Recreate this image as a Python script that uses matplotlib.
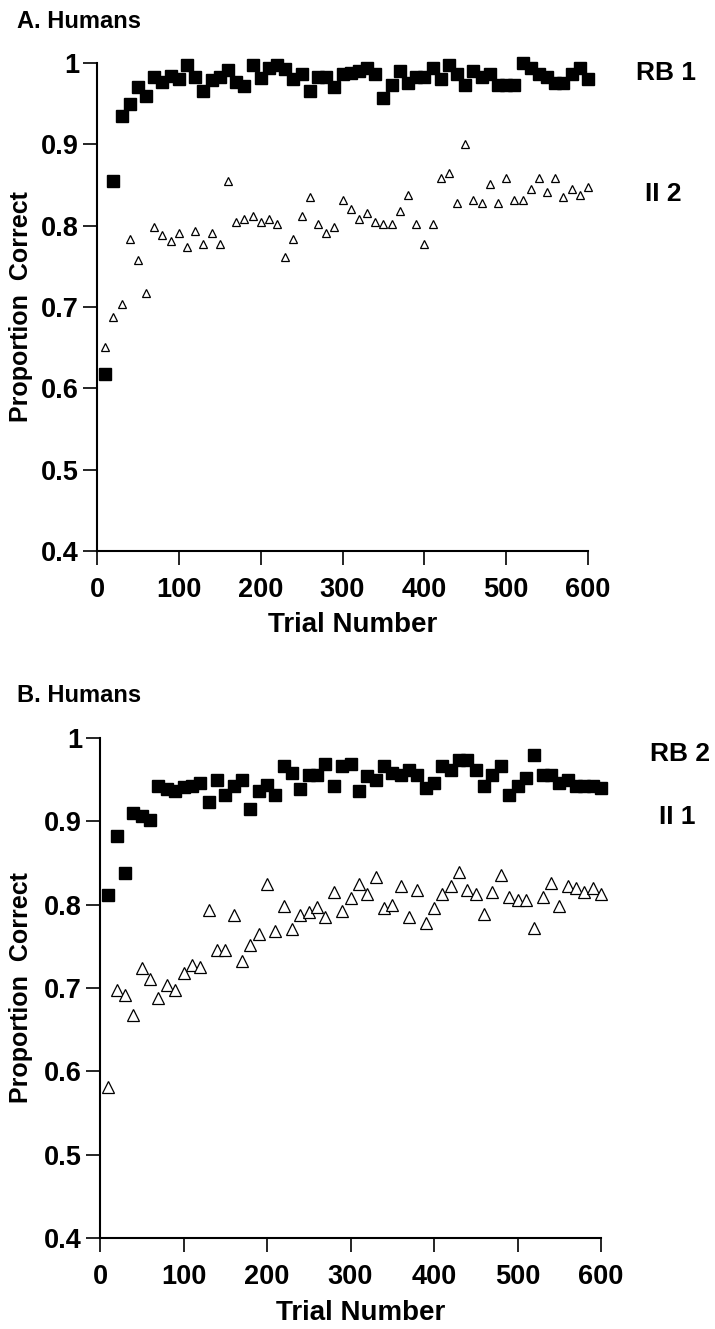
#!/usr/bin/env python3
import matplotlib
matplotlib.use("Agg")
import matplotlib.pyplot as plt

# Trial bins (every 10 trials)
trials = list(range(10, 610, 10))

# Panel A: RB 1 (filled squares) and II 2 (open triangles)
rb1 = [0.618, 0.855, 0.935, 0.949, 0.970, 0.959, 0.983, 0.977, 0.984, 0.980,
       0.997, 0.983, 0.966, 0.979, 0.983, 0.991, 0.977, 0.972, 0.997, 0.981,
       0.994, 0.997, 0.993, 0.980, 0.987, 0.966, 0.983, 0.983, 0.970, 0.987,
       0.988, 0.990, 0.994, 0.987, 0.957, 0.973, 0.990, 0.976, 0.983, 0.983,
       0.994, 0.980, 0.998, 0.987, 0.973, 0.990, 0.983, 0.987, 0.973, 0.973,
       0.973, 1.000, 0.994, 0.987, 0.983, 0.976, 0.976, 0.987, 0.994, 0.980]
ii2 = [0.651, 0.688, 0.704, 0.784, 0.758, 0.717, 0.798, 0.788, 0.781, 0.791,
       0.774, 0.794, 0.778, 0.791, 0.778, 0.855, 0.804, 0.808, 0.812, 0.804,
       0.808, 0.802, 0.761, 0.784, 0.812, 0.835, 0.802, 0.791, 0.798, 0.831,
       0.821, 0.808, 0.815, 0.805, 0.802, 0.802, 0.818, 0.838, 0.802, 0.778,
       0.802, 0.858, 0.865, 0.828, 0.901, 0.831, 0.828, 0.851, 0.828, 0.858,
       0.831, 0.831, 0.845, 0.858, 0.841, 0.858, 0.835, 0.845, 0.838, 0.848]

# Panel B: RB 2 (filled squares) and II 1 (open triangles)
rb2 = [0.812, 0.882, 0.838, 0.910, 0.906, 0.902, 0.942, 0.939, 0.936, 0.941,
       0.942, 0.946, 0.923, 0.949, 0.932, 0.942, 0.949, 0.915, 0.936, 0.943,
       0.932, 0.966, 0.958, 0.939, 0.956, 0.956, 0.969, 0.942, 0.966, 0.969,
       0.936, 0.954, 0.949, 0.966, 0.958, 0.956, 0.962, 0.956, 0.940, 0.946,
       0.966, 0.962, 0.973, 0.973, 0.962, 0.942, 0.956, 0.966, 0.932, 0.942,
       0.952, 0.980, 0.956, 0.956, 0.946, 0.950, 0.942, 0.942, 0.942, 0.940]
ii1 = [0.581, 0.698, 0.691, 0.668, 0.724, 0.711, 0.688, 0.704, 0.698, 0.718,
       0.728, 0.725, 0.794, 0.745, 0.745, 0.788, 0.732, 0.751, 0.765, 0.825,
       0.768, 0.798, 0.771, 0.788, 0.791, 0.797, 0.785, 0.815, 0.792, 0.808,
       0.825, 0.813, 0.833, 0.796, 0.800, 0.822, 0.785, 0.818, 0.778, 0.796,
       0.813, 0.822, 0.839, 0.818, 0.813, 0.789, 0.815, 0.836, 0.809, 0.806,
       0.806, 0.772, 0.809, 0.826, 0.798, 0.822, 0.820, 0.815, 0.820, 0.813]

y_ticks = [0.4, 0.5, 0.6, 0.7, 0.8, 0.9, 1.0]
y_tick_labels = ["0.4", "0.5", "0.6", "0.7", "0.8", "0.9", "1"]
x_ticks = [0, 100, 200, 300, 400, 500, 600]

plt.rcParams['font.family'] = ['Liberation Sans', 'DejaVu Sans']
plt.rcParams['font.weight'] = 'bold'


def style_axes(ax):
    for side in ('top', 'right'):
        ax.spines[side].set_visible(False)
    for side in ('left', 'bottom'):
        ax.spines[side].set_linewidth(1.5)
    ax.set_xlim(0, 600)
    ax.set_ylim(0.4, 1.0)
    ax.set_xticks(x_ticks)
    ax.set_yticks(y_ticks)
    ax.set_yticklabels(y_tick_labels)
    ax.tick_params(axis='both', direction='out', length=10, width=1.2,
                   labelsize=19.5)
    ax.tick_params(axis='x', pad=9)
    ax.tick_params(axis='y', pad=3)
    for lab in ax.get_xticklabels() + ax.get_yticklabels():
        lab.set_fontweight('bold')
    ax.set_xlabel("Trial Number", fontsize=20, fontweight='bold')
    ax.set_ylabel("Proportion  Correct", fontsize=18, fontweight='bold')


def panel(ax, sq, tri, tri_size, sq_label, tri_label, sq_pos, tri_pos, ha='center'):
    ax.plot(trials, sq, linestyle='none', marker='s', markersize=8,
            color='black', clip_on=False)
    ax.plot(trials, tri, linestyle='none', marker='^', markersize=tri_size,
            markerfacecolor='white', markeredgecolor='black',
            markeredgewidth=0.9, clip_on=False)
    style_axes(ax)
    ax.text(sq_pos[0], sq_pos[1], sq_label, fontsize=19, fontweight='bold',
            ha=ha, va='center', clip_on=False)
    ax.text(tri_pos[0], tri_pos[1], tri_label, fontsize=19, fontweight='bold',
            ha=ha, va='center', clip_on=False)
    return ax


def main():
    fig = plt.figure(figsize=(7.15, 13.29), dpi=100)

    ax_a = fig.add_axes([0.1357, 0.5854, 0.6867, 0.3672])
    panel(ax_a, rb1, ii2, 6, "RB 1", "II 2", (695, 0.988), (692, 0.839))
    ax_a.xaxis.set_label_coords(0.52, -0.125)
    ax_a.yaxis.set_label_coords(-0.13, 0.5)

    # right-aligned so "RB 2" stays inside the figure
    ax_b = fig.add_axes([0.1399, 0.0685, 0.7007, 0.3762])
    panel(ax_b, rb2, ii1, 9, "RB 2", "II 1", (731, 0.981), (713, 0.905),
          ha='right')
    ax_b.xaxis.set_label_coords(0.52, -0.125)
    ax_b.yaxis.set_label_coords(-0.134, 0.5)

    fig.text(17 / 715, 1 - 22 / 1329, "A. Humans", fontsize=17,
             fontweight='bold', ha='left', va='center')
    fig.text(17 / 715, 1 - 695 / 1329, "B. Humans", fontsize=17,
             fontweight='bold', ha='left', va='center')

    fig.savefig("out.png", dpi=100)


if __name__ == "__main__":
    main()
